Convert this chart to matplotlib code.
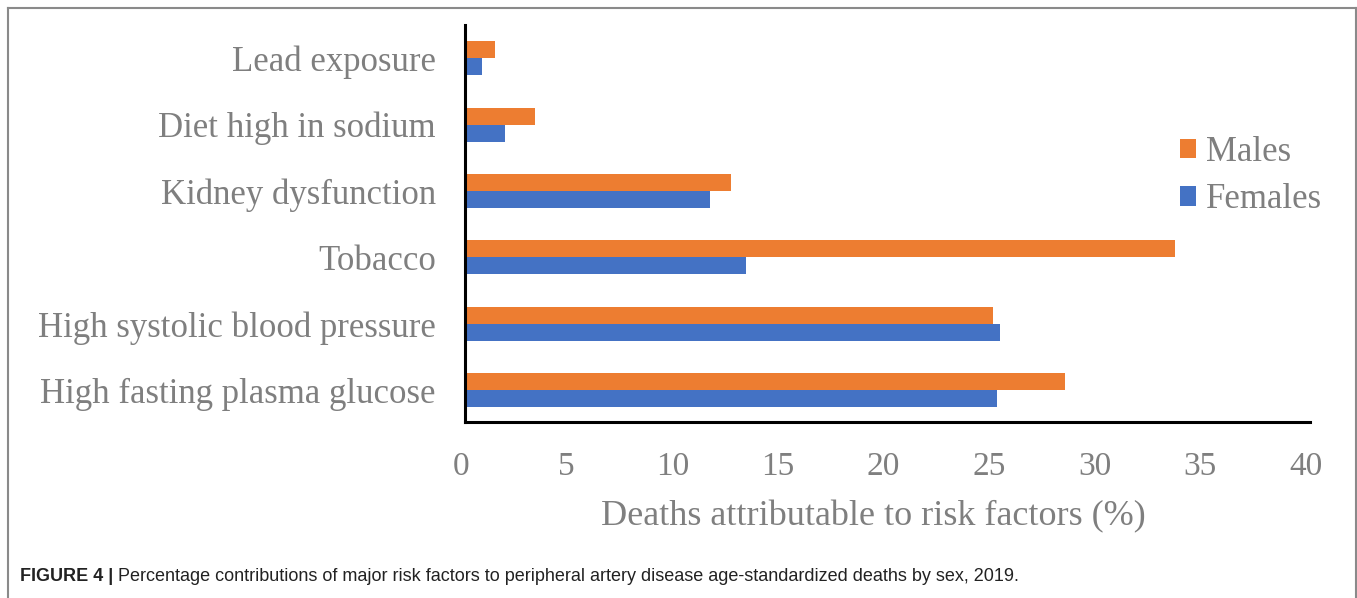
import numpy as np
import matplotlib.pyplot as plt
import matplotlib.transforms as mtransforms
from matplotlib.lines import Line2D

# risk factors, listed bottom to top as they appear on the axis
factors = ["High fasting plasma glucose", "High systolic blood pressure", "Tobacco",
           "Kidney dysfunction", "Diet high in sodium", "Lead exposure"]
males = [28.4, 25.0, 33.6, 12.6, 3.3, 1.4]
females = [25.2, 25.3, 13.3, 11.6, 1.9, 0.8]
xticks = [0, 5, 10, 15, 20, 25, 30, 35, 40]

ORANGE = "#ED7D31"
BLUE = "#4472C4"
GREY = "#7F7F7F"
SERIF = "Liberation Serif"

fig = plt.figure(figsize=(13.57, 5.98), dpi=100)
ax = fig.add_axes([0.3427, 0.2943, 0.6227, 0.6637])

y = np.arange(len(factors))
h = 0.256
ax.barh(y + h / 2, males, height=h, color=ORANGE, label="Males")
ax.barh(y - h / 2, females, height=h, color=BLUE, label="Females")

ax.set_xlim(0, 40)
ax.set_ylim(-0.48, 5.5)
ax.set_xticks(xticks)
ax.set_yticks(y)
ax.set_yticklabels(factors)
ax.tick_params(length=0, labelsize=25, labelcolor=GREY)
ax.tick_params(axis="y", pad=21)
ax.tick_params(axis="x", pad=21, labelsize=24)
shift = mtransforms.ScaledTranslation(-4 / 100, 0, fig.dpi_scale_trans)
for lab in ax.get_xticklabels():
    lab.set_family(SERIF)
    lab.set_transform(lab.get_transform() + shift)
for lab in ax.get_yticklabels():
    lab.set_family(SERIF)

for s in ["top", "right"]:
    ax.spines[s].set_visible(False)
for s in ["left", "bottom"]:
    ax.spines[s].set_linewidth(2.2)
    ax.spines[s].set_color("black")

ax.set_xlabel("Deaths attributable to risk factors (%)", family=SERIF, fontsize=26,
              color=GREY)
ax.xaxis.set_label_coords(0.4834, -0.197)

leg = ax.legend(loc="upper left", bbox_to_anchor=(0.825, 0.765), frameon=False,
                prop={"family": SERIF, "size": 25}, handlelength=0.48, handleheight=0.48,
                handletextpad=0.28, labelspacing=0.42, borderpad=0)
for t in leg.get_texts():
    t.set_color(GREY)

# thin frame around the figure panel
frame = dict(color="#8a8a8a", linewidth=1.5, transform=fig.transFigure)
fig.add_artist(Line2D([0.006, 0.006], [0, 0.987], **frame))
fig.add_artist(Line2D([0.006, 0.9995], [0.987, 0.987], **frame))
fig.add_artist(Line2D([0.9995, 0.9995], [0, 0.987], **frame))

cap = fig.text(0.015, 0.028, "FIGURE 4 |", family="Liberation Sans", fontsize=13,
               weight="bold", color="#222222")
fig.canvas.draw()
bb = cap.get_window_extent()
fig.text(bb.x1 / fig.bbox.width + 0.003, 0.028,
         "Percentage contributions of major risk factors to peripheral artery disease "
         "age-standardized deaths by sex, 2019.",
         family="Liberation Sans", fontsize=13, color="#222222")

fig.savefig("out.png", dpi=100)
